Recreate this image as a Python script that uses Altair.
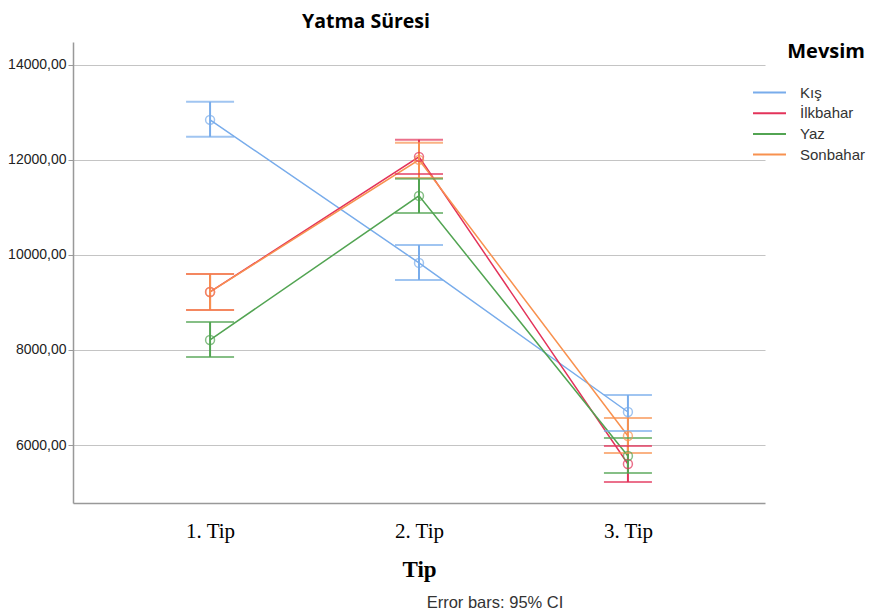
import altair as alt
import pandas as pd

tips = ["1. Tip", "2. Tip", "3. Tip"]
seasons = ["Kış", "İlkbahar", "Yaz", "Sonbahar"]
colors = ["#78aceb", "#e3335a", "#52a452", "#f8914f"]

mean_kis = [12842, 9832, 6695]
lo_kis = [12484, 9474, 6295]
hi_kis = [13221, 10211, 7053]

mean_ilk = [9221, 12063, 5600]
lo_ilk = [8842, 11705, 5221]
hi_ilk = [9600, 12421, 5979]

mean_yaz = [8211, 11242, 5768]
lo_yaz = [7853, 10884, 5411]
hi_yaz = [8589, 11600, 6147]

mean_son = [9221, 12000, 6189]
lo_son = [8842, 11621, 5832]
hi_son = [9600, 12358, 6568]

y_ticks = [6000, 8000, 10000, 12000, 14000]

rows = []
for s, m, lo, hi in zip(seasons,
                        [mean_kis, mean_ilk, mean_yaz, mean_son],
                        [lo_kis, lo_ilk, lo_yaz, lo_son],
                        [hi_kis, hi_ilk, hi_yaz, hi_son]):
    for t, mv, lv, hv in zip(tips, m, lo, hi):
        rows.append({"Tip": t, "Mevsim": s, "mean": mv, "lo": lv, "hi": hv})
df = pd.DataFrame(rows)

xenc = alt.X("Tip:N", sort=tips,
             scale=alt.Scale(type="point", padding=0.656),
             axis=alt.Axis(title="Tip", labelAngle=0, labelFont="Liberation Serif",
                           labelFontSize=21, labelColor="#000", labelPadding=17,
                           ticks=False, domainColor="#999", domainWidth=1.5,
                           titleFont="Liberation Serif", titleFontSize=23,
                           titleFontWeight="bold", titleColor="#000", titlePadding=17,
                           grid=False))
color = alt.Color("Mevsim:N", sort=seasons,
                  scale=alt.Scale(domain=seasons, range=colors),
                  legend=alt.Legend(title="Mevsim", orient="none", legendX=687, legendY=0,
                                    titleFont="Open Sans", titleFontSize=20,
                                    titleFontWeight="bold", titleColor="#000",
                                    titleAnchor="end", titlePadding=21,
                                    labelFont="Liberation Sans", labelFontSize=15,
                                    labelColor="#333", symbolType="M-2,0H2",
                                    symbolStrokeWidth=2, symbolSize=272,
                                    labelOffset=21, rowPadding=2.7))
yscale = alt.Scale(domain=[4780, 14480], nice=False, zero=False)
yaxis = alt.Axis(title=None, values=y_ticks,
                 labelExpr="replace(format(datum.value, '.2f'), '.', ',')",
                 labelFont="Liberation Sans", labelFontSize=14, labelColor="#222",
                 tickColor="#999", tickSize=5, labelPadding=2,
                 domainColor="#999", domainWidth=1.5,
                 gridColor="#c4c4c4", gridWidth=1.2)

base = alt.Chart(df)
lines = base.mark_line(strokeWidth=1.5).encode(
    x=xenc, y=alt.Y("mean:Q", scale=yscale, axis=yaxis), color=color)
pts = base.mark_point(shape="circle", size=80, filled=False, strokeWidth=1.5).encode(
    x=xenc, y=alt.Y("mean:Q"), color=alt.Color("Mevsim:N", sort=seasons, legend=None))
err = base.mark_rule(strokeWidth=2).encode(
    x=xenc, y=alt.Y("lo:Q"), y2="hi:Q", color=alt.Color("Mevsim:N", sort=seasons, legend=None))
cap_lo = base.mark_tick(size=48, thickness=2).encode(
    x=xenc, y=alt.Y("lo:Q"), color=alt.Color("Mevsim:N", sort=seasons, legend=None))
cap_hi = base.mark_tick(size=48, thickness=2).encode(
    x=xenc, y=alt.Y("hi:Q"), color=alt.Color("Mevsim:N", sort=seasons, legend=None))

footer = alt.Chart(pd.DataFrame({"t": ["Error bars: 95% CI"]})).mark_text(
    font="Liberation Sans", fontSize=16.5, color="#333", align="center", baseline="middle"
).encode(x=alt.value(422), y=alt.value(561), text="t:N")

chart = alt.layer(lines, err, cap_lo, cap_hi, pts, footer).properties(
    width=692, height=461,
    autosize=alt.AutoSizeParams(type="none"),
    padding={"left": 65, "top": 34, "right": 104, "bottom": 110},
    title=alt.TitleParams("Yatma Süresi", font="Open Sans", fontSize=19.5,
                          fontWeight="bold", color="#000", anchor="middle",
                          dx=-53, offset=10)
).configure_view(stroke=None)

chart.save("out.html", embed_options={"renderer": "svg", "actions": False})
